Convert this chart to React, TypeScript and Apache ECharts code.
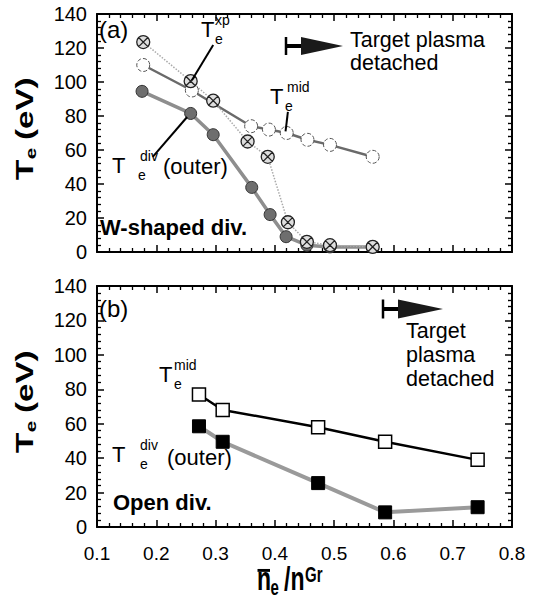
import React, { useEffect, useRef } from 'react';
import * as echarts from 'echarts';

// ---- data ----
const xTickValues = [0.1, 0.2, 0.3, 0.4, 0.5, 0.6, 0.7, 0.8];
const yTickValues = [0, 20, 40, 60, 80, 100, 120, 140];

// (a) W-shaped divertor
const topXpX = [0.178, 0.258, 0.296, 0.354, 0.388, 0.422, 0.454, 0.493, 0.565];
const topXpY = [123.5, 100.5, 89, 65, 56, 17.5, 6, 4, 3];
const topMidX = [0.178, 0.26, 0.36, 0.39, 0.42, 0.455, 0.493, 0.565];
const topMidY = [110, 95, 74, 72, 70, 66, 63, 56];
const topDivX = [0.176, 0.258, 0.296, 0.361, 0.392, 0.419, 0.454, 0.493, 0.565];
const topDivY = [94.5, 81.5, 69, 38, 22, 9, 4, 3, 3];

// (b) Open divertor
const botMidX = [0.272, 0.312, 0.473, 0.586, 0.742];
const botMidY = [77, 68, 58, 49.5, 39];
const botDivX = [0.272, 0.312, 0.473, 0.586, 0.742];
const botDivY = [58.5, 49.5, 25.5, 8.5, 11.5];

// leader lines (label -> point), data units
const xpLeader = [[0.296, 121.8], [0.26, 101]];
const divLeader = [[0.194, 55.9], [0.252, 79.4]];
const midLeader = [[0.422, 82.4], [0.418, 71]];

const FONT = 'Liberation Sans, Arial, Helvetica, sans-serif';

const zip = (xs: number[], ys: number[]) => xs.map((x, i) => [x, ys[i]]);

const crossCircle =
  'path://M10,0 A10,10 0 1,1 10,20 A10,10 0 1,1 10,0 Z M2.9,2.9 L17.1,17.1 M17.1,2.9 L2.9,17.1';

function txt(x: number, y: number, text: string, size: number, bold = false, extra: any = {}) {
  return {
    type: 'text',
    x,
    y,
    silent: true,
    style: {
      text,
      font: `${bold ? 'bold ' : ''}${size}px ${FONT}`,
      fill: '#000',
      align: 'left',
      verticalAlign: 'middle',
      ...extra,
    },
  };
}

function teLabel(x: number, y: number, sup: string, subDx: number, supDx: number, size = 22) {
  return {
    type: 'group',
    x,
    y,
    children: [
      txt(0, 0, 'T', size),
      txt(subDx, 10, 'e', 14),
      txt(supDx, -9, sup, 14),
    ],
  };
}

function yTitle(x: number, yBottom: number) {
  return {
    type: 'group',
    x,
    y: yBottom,
    rotation: Math.PI / 2,
    scaleX: 1.38,
    children: [
      txt(0, 0, 'T', 24, true),
      txt(15, 6, 'e', 15, true),
      txt(29, 0, '(eV)', 24, true),
    ],
  };
}

function arrow(xTick: number, yc: number, xTriStart: number, xTip: number, half: number) {
  return [
    {
      type: 'line',
      silent: true,
      shape: { x1: xTick, y1: yc - half, x2: xTick, y2: yc + half },
      style: { stroke: '#000', lineWidth: 2.5 },
    },
    {
      type: 'line',
      silent: true,
      shape: { x1: xTick, y1: yc, x2: xTriStart + 2, y2: yc },
      style: { stroke: '#000', lineWidth: 4 },
    },
    {
      type: 'polygon',
      silent: true,
      shape: { points: [[xTriStart, yc - half], [xTip, yc], [xTriStart, yc + half]] },
      style: { fill: '#1a1a1a' },
    },
  ];
}

function xAxisCfg(gridIndex: number, position: string, labels: boolean) {
  return {
    type: 'value',
    gridIndex,
    position,
    min: 0.1,
    max: 0.8,
    interval: 0.1,
    axisLine: { show: true, onZero: false, lineStyle: { color: '#000', width: 2 } },
    axisTick: { show: true, inside: true, length: 7, lineStyle: { color: '#000', width: 1.5 } },
    minorTick: { show: true, splitNumber: 5, length: 4, lineStyle: { color: '#000', width: 1.3 } },
    splitLine: { show: false },
    axisLabel: {
      show: labels,
      fontSize: 19,
      fontFamily: FONT,
      color: '#000',
      margin: 17,
      formatter: (v: number) => {
        const t = xTickValues.find((k) => Math.abs(k - v) < 1e-6);
        return t === undefined ? '' : t.toFixed(1);
      },
    },
  };
}

function yAxisCfg(gridIndex: number, position: string, labels: boolean) {
  return {
    type: 'value',
    gridIndex,
    position,
    min: 0,
    max: 140,
    interval: 20,
    axisLine: { show: true, onZero: false, lineStyle: { color: '#000', width: 2 } },
    axisTick: { show: true, inside: true, length: 7, lineStyle: { color: '#000', width: 1.5 } },
    minorTick: { show: true, splitNumber: 5, length: 4, lineStyle: { color: '#000', width: 1.3 } },
    splitLine: { show: false },
    axisLabel: {
      show: labels,
      fontSize: 20,
      fontFamily: FONT,
      color: '#000',
      margin: 10,
      formatter: (v: number) => (yTickValues.includes(v) ? String(v) : ''),
    },
  };
}

function leader(seg: number[][]) {
  return {
    silent: true,
    symbol: ['none', 'none'],
    label: { show: false },
    lineStyle: { color: '#000', width: 2, type: 'solid' },
    emphasis: { disabled: true },
    data: [[{ coord: seg[0] }, { coord: seg[1] }]],
  };
}

export default function App() {
  const ref = useRef<HTMLDivElement>(null);
  useEffect(() => {
    if (!ref.current) return;
    const chart = echarts.init(ref.current, undefined, { renderer: 'svg' });
    const option: any = {
      animation: false,
      backgroundColor: '#fff',
      grid: [
        { left: 97, top: 14, width: 415, height: 238 },
        { left: 97, top: 286, width: 415, height: 241 },
      ],
      xAxis: [
        xAxisCfg(0, 'bottom', false),
        xAxisCfg(0, 'top', false),
        xAxisCfg(1, 'bottom', true),
        xAxisCfg(1, 'top', false),
      ],
      yAxis: [
        yAxisCfg(0, 'left', true),
        yAxisCfg(0, 'right', false),
        yAxisCfg(1, 'left', true),
        yAxisCfg(1, 'right', false),
      ],
      series: [
        {
          type: 'line',
          name: 'Te div (a)',
          xAxisIndex: 0,
          yAxisIndex: 0,
          data: zip(topDivX, topDivY),
          symbol: 'circle',
          symbolSize: 12,
          itemStyle: { color: '#6e6e6e', borderColor: '#333', borderWidth: 1 },
          lineStyle: { color: '#8e8e8e', width: 3.5 },
          markLine: leader(divLeader),
        },
        {
          type: 'line',
          name: 'Te mid (a)',
          xAxisIndex: 0,
          yAxisIndex: 0,
          data: zip(topMidX, topMidY),
          symbol: 'circle',
          symbolSize: 13,
          itemStyle: { color: '#fff', borderColor: '#555', borderWidth: 1, borderType: 'dashed' },
          lineStyle: { color: '#6a6a6a', width: 2.5 },
          markLine: leader(midLeader),
        },
        {
          type: 'line',
          name: 'Te xp (a)',
          xAxisIndex: 0,
          yAxisIndex: 0,
          data: zip(topXpX, topXpY),
          symbol: crossCircle,
          symbolSize: 13,
          itemStyle: { color: '#dedede', borderColor: '#222', borderWidth: 1.3 },
          lineStyle: { color: '#aaa', width: 1.5, type: 'dotted' },
          markLine: leader(xpLeader),
        },
        {
          type: 'line',
          name: 'Te div (b)',
          xAxisIndex: 2,
          yAxisIndex: 2,
          data: zip(botDivX, botDivY),
          symbol: 'rect',
          symbolSize: 13,
          itemStyle: { color: '#000', borderColor: '#000', borderWidth: 1 },
          lineStyle: { color: '#9a9a9a', width: 4 },
        },
        {
          type: 'line',
          name: 'Te mid (b)',
          xAxisIndex: 2,
          yAxisIndex: 2,
          data: zip(botMidX, botMidY),
          symbol: 'rect',
          symbolSize: 13,
          itemStyle: { color: '#fff', borderColor: '#000', borderWidth: 1.5 },
          lineStyle: { color: '#000', width: 2.5 },
        },
      ],
      graphic: [
        // panel (a)
        txt(99, 29, '(a)', 24),
        teLabel(201, 29, 'xp', 14, 14),
        teLabel(270, 96, 'mid', 15, 17),
        teLabel(112, 165, 'div', 26, 28),
        txt(163, 166, '(outer)', 22),
        txt(350, 40, 'Target plasma', 21.5),
        txt(350, 63, 'detached', 21.5),
        ...arrow(286, 46, 301, 343, 9),
        txt(100, 227, 'W-shaped div.', 22, true),
        yTitle(25, 180),
        // panel (b)
        txt(99, 308, '(b)', 24),
        teLabel(159, 374, 'mid', 15, 15),
        teLabel(112, 454, 'div', 28, 28),
        txt(167, 457, '(outer)', 22),
        txt(406, 331, 'Target', 21.5),
        txt(406, 355, 'plasma', 21.5),
        txt(406, 379, 'detached', 21.5),
        ...arrow(383, 309, 398, 443, 9.5),
        txt(113, 502, 'Open div.', 22, true),
        yTitle(25, 453),
        // x axis title
        {
          type: 'group',
          x: 257,
          y: 581,
          scaleY: 1.45,
          children: [
            txt(0, -1.5, 'n', 23, true),
            {
              type: 'line',
              silent: true,
              shape: { x1: 0.5, y1: -7.3, x2: 13, y2: -7.3 },
              style: { stroke: '#000', lineWidth: 2 },
            },
            txt(13.5, 4.5, 'e', 15, true),
            txt(27, -1.5, '/n', 23, true),
            txt(48, -4.5, 'Gr', 15, true),
          ],
        },
      ],
    };
    chart.setOption(option);
    return () => chart.dispose();
  }, []);
  return (
    <div
      ref={ref}
      style={{ position: 'fixed', left: 0, top: 0, width: 541, height: 603, background: '#fff' }}
    />
  );
}
